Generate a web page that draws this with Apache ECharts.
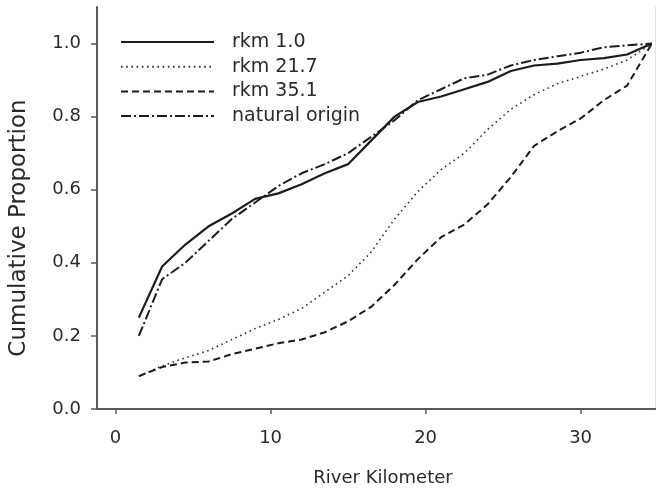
<!DOCTYPE html>
<html lang="en" style="height: 100%">
<head>
  <meta charset="utf-8">
</head>
<body style="height: 100%; margin: 0">
  <div id="container" style="width: 662px; height: 495px"></div>
  <script type="text/javascript" src="https://cdn.jsdelivr.net/npm/echarts@6/dist/echarts.min.js"></script>
  <script type="text/javascript">

    // river kilometer where the proportions were read
    var rkm = [1.5, 3, 4.5, 6, 7.5, 9, 10.5, 12, 13.5, 15, 16.5, 18, 19.5, 21, 22.5, 24, 25.5, 27, 28.5, 30, 31.5, 33, 34.6];

    var rkm1 = [0.25, 0.39, 0.45, 0.50, 0.535, 0.575, 0.59, 0.615, 0.645, 0.67, 0.735, 0.80, 0.84, 0.855, 0.875, 0.895, 0.925, 0.94, 0.945, 0.955, 0.96, 0.97, 1.0];
    var rkm21 = [0.09, 0.118, 0.14, 0.16, 0.19, 0.22, 0.245, 0.275, 0.32, 0.365, 0.43, 0.52, 0.595, 0.655, 0.70, 0.765, 0.82, 0.86, 0.89, 0.91, 0.93, 0.955, 1.0];
    var rkm35 = [0.09, 0.115, 0.127, 0.13, 0.15, 0.165, 0.18, 0.19, 0.21, 0.24, 0.28, 0.34, 0.41, 0.47, 0.505, 0.56, 0.635, 0.72, 0.76, 0.795, 0.845, 0.885, 1.0];
    var natural = [0.20, 0.355, 0.40, 0.46, 0.52, 0.565, 0.61, 0.645, 0.67, 0.70, 0.745, 0.79, 0.845, 0.875, 0.905, 0.915, 0.94, 0.955, 0.965, 0.975, 0.99, 0.995, 1.0];

    var xTicks = [0, 10, 20, 30];
    var yTicks = [0, 0.2, 0.4, 0.6, 0.8, 1.0];

    function pairs(ys) {
      return rkm.map(function (x, i) { return [x, ys[i]]; });
    }

    var font = 'DejaVu Sans';
    var axisColor = '#5a5a5a';
    var textColor = '#2a2a2a';

    var dom = document.getElementById('container');
    var myChart = echarts.init(dom, null, { renderer: 'canvas' });

    var option = {
      animation: false,
      backgroundColor: '#ffffff',
      grid: { left: 94, top: 7, right: 7, bottom: 86 },
      legend: {
        orient: 'vertical',
        left: 115,
        top: 27,
        itemWidth: 93,
        itemHeight: 14,
        itemGap: 4.7,
        itemStyle: { opacity: 0 },
        textStyle: { fontFamily: font, fontSize: 19, color: textColor, lineHeight: 20, padding: [0, 0, 0, 13] },
        data: ['rkm 1.0', 'rkm 21.7', 'rkm 35.1', 'natural origin']
      },
      xAxis: [
        {
          type: 'value',
          min: -1.2,
          max: 34.8,
          name: 'River Kilometer',
          nameLocation: 'middle',
          nameGap: 60,
          nameTextStyle: { fontFamily: font, fontSize: 18, color: textColor, padding: [0, 0, 0, 14] },
          axisLine: { lineStyle: { color: axisColor, width: 2 } },
          axisTick: { show: true, length: 5, inside: false, customValues: xTicks, lineStyle: { color: axisColor, width: 1.5 } },
          axisLabel: { customValues: xTicks, margin: 20, fontFamily: font, fontSize: 18, color: textColor },
          splitLine: { show: false }
        },
        {
          type: 'value',
          position: 'top',
          min: -1.2,
          max: 34.8,
          axisLine: { show: true, lineStyle: { color: axisColor, width: 2 } },
          axisTick: { show: false },
          axisLabel: { show: false },
          splitLine: { show: false }
        }
      ],
      yAxis: [
        {
          type: 'value',
          min: 0,
          max: 1.1,
          name: 'Cumulative Proportion',
          nameLocation: 'middle',
          nameGap: 66,
          nameTextStyle: { fontFamily: font, fontSize: 23, color: textColor, padding: [0, 40, 0, 0] },
          axisLine: { show: true, onZero: false, lineStyle: { color: axisColor, width: 2 } },
          axisTick: { show: true, length: 6, customValues: yTicks, lineStyle: { color: axisColor, width: 1.5 } },
          axisLabel: {
            customValues: yTicks,
            margin: 16,
            fontFamily: font,
            fontSize: 18,
            color: textColor,
            formatter: function (v) { return v.toFixed(1); }
          },
          splitLine: { show: false }
        },
        {
          type: 'value',
          position: 'right',
          min: 0,
          max: 1.1,
          axisLine: { show: true, onZero: false, lineStyle: { color: '#e2e2e2', width: 1 } },
          axisTick: { show: false },
          axisLabel: { show: false },
          splitLine: { show: false }
        }
      ],
      series: [
        {
          name: 'rkm 1.0',
          type: 'line',
          symbol: 'none',
          data: pairs(rkm1),
          color: '#1c1c1c',
          lineStyle: { color: '#1c1c1c', width: 2.2, type: 'solid' }
        },
        {
          name: 'rkm 21.7',
          type: 'line',
          symbol: 'none',
          data: pairs(rkm21),
          color: '#333333',
          lineStyle: { color: '#333333', width: 1.6, type: [1.6, 3.6] }
        },
        {
          name: 'rkm 35.1',
          type: 'line',
          symbol: 'none',
          data: pairs(rkm35),
          color: '#1c1c1c',
          lineStyle: { color: '#1c1c1c', width: 2, type: [7, 4] }
        },
        {
          name: 'natural origin',
          type: 'line',
          symbol: 'none',
          data: pairs(natural),
          color: '#1c1c1c',
          lineStyle: { color: '#1c1c1c', width: 2, type: [10, 3, 2, 3] }
        }
      ]
    };

    myChart.setOption(option);
    window.addEventListener('resize', myChart.resize);

  </script>
</body>
</html>
